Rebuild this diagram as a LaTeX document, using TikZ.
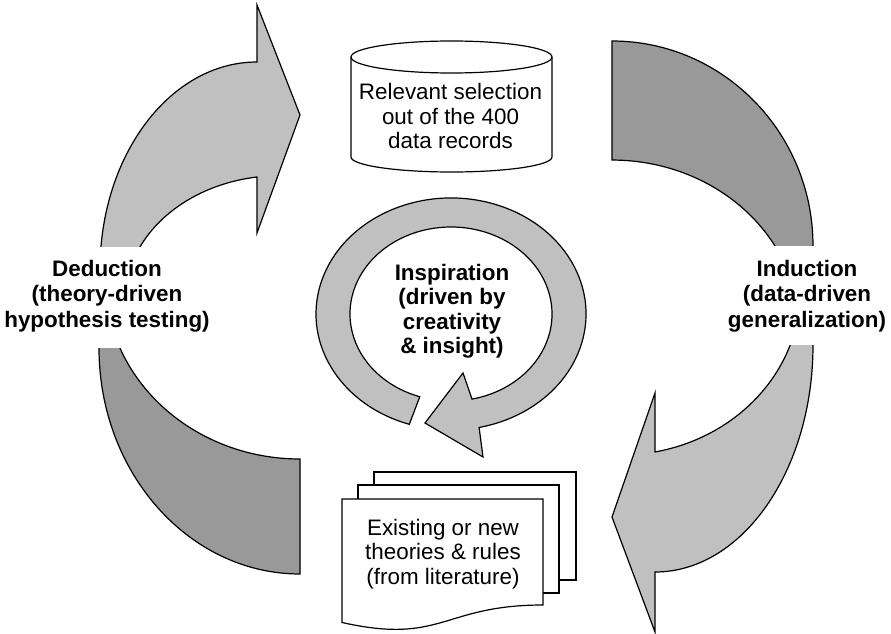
\documentclass[tikz,border=0pt]{standalone}
\usepackage{fontspec}
\setmainfont{Liberation Sans}
\definecolor{lightshade}{HTML}{C0C0C0}
\definecolor{darkshade}{HTML}{999999}
\begin{document}
\begin{tikzpicture}[x=1pt,y=1pt,
  outline/.style={draw=black,line width=1.2pt,line join=miter},
  arrowlight/.style={outline,fill=lightshade},
  arrowdark/.style={outline,fill=darkshade},
  paper/.style={outline,fill=white},
  band/.style={fill=white},
  boldlabel/.style={font=\fontsize{22.4}{25.5}\selectfont\bfseries,align=center,inner sep=0pt,anchor=base},
  ringlabel/.style={font=\fontsize{22.4}{24.5}\selectfont\bfseries,align=center,inner sep=0pt,anchor=base},
  plainlabel/.style={font=\fontsize{22.4}{24.5}\selectfont,align=center,inner sep=0pt,anchor=base}]
\useasboundingbox (0,0) rectangle (891,633);
% top-left arrow (deduction, up)
\filldraw[arrowlight] (100,363) arc[start angle=180,end angle=90,x radius=157,y radius=208]
  -- (257,628) -- (300,518) -- (257,400) -- (257,456)
  arc[start angle=98.5,end angle=180,x radius=155,y radius=125] -- cycle;
% bottom-left band
\filldraw[arrowdark] (99,300) -- (99,285) arc[start angle=180,end angle=270,x radius=201,y radius=226]
  -- (300,174) arc[start angle=270,end angle=180,x radius=194.6,y radius=179] -- cycle;
% top-right band
\filldraw[arrowdark] (612,473) -- (612,592) arc[start angle=90,end angle=0,x radius=201,y radius=205]
  -- (813,360) -- (788.2,361.1) arc[start angle=20,end angle=90,x radius=187.5,y radius=170] -- cycle;
% bottom-right arrow (induction, down)
\filldraw[arrowlight] (655,61) arc[start angle=270,end angle=360,x radius=158,y radius=227]
  -- (813,330) -- (799.8,328.6) arc[start angle=-5,end angle=-78.8,x radius=180.5,y radius=165.1]
  -- (655,240) -- (612,116) -- (655,1) -- cycle;
% white label bands
\fill[band] (0,285) rectangle (235,386);
\fill[band] (690,288) rectangle (891,387);
\node[boldlabel] (deduction) at (107,306) {Deduction\\(theory-driven\\hypothesis testing)};
\node[boldlabel] (induction) at (807,306) {Induction\\(data-driven\\generalization)};
% inspiration ring
\filldraw[arrowlight] (409.3,208.7) arc[start angle=252,end angle=-78,x radius=135,y radius=116]
  -- (483,176) -- (425,210) -- (463,260) -- (472,233.9)
  arc[start angle=-78,end angle=252,x radius=101,y radius=87] -- cycle;
\node[ringlabel] (inspiration) at (452,279.5) {Inspiration\\(driven by\\creativity\\\& insight)};
% cylinder
\filldraw[paper] (351,576) -- (351,476) arc[start angle=180,end angle=360,x radius=100.5,y radius=15]
  -- (552,576) arc[start angle=0,end angle=180,x radius=100.5,y radius=16] -- cycle;
\draw[outline] (351,576) arc[start angle=180,end angle=360,x radius=100.5,y radius=16];
\begin{scope}
\clip (351,483) rectangle (552,560);
\node[plainlabel] (records) at (450.5,484) {Relevant selection\\out of the 400\\data records};
\end{scope}
% document stack
\filldraw[paper] (374,53) rectangle (576,161);
\filldraw[paper] (358,40) rectangle (559,148);
\filldraw[paper] (342,134) -- (543,134) -- (543,28) .. controls (442.5,28) and (442.5,-12) .. (342,10.5) -- cycle;
\node[plainlabel] (theories) at (443,49) {Existing or new\\theories \& rules\\(from literature)};
\end{tikzpicture}
\end{document}
